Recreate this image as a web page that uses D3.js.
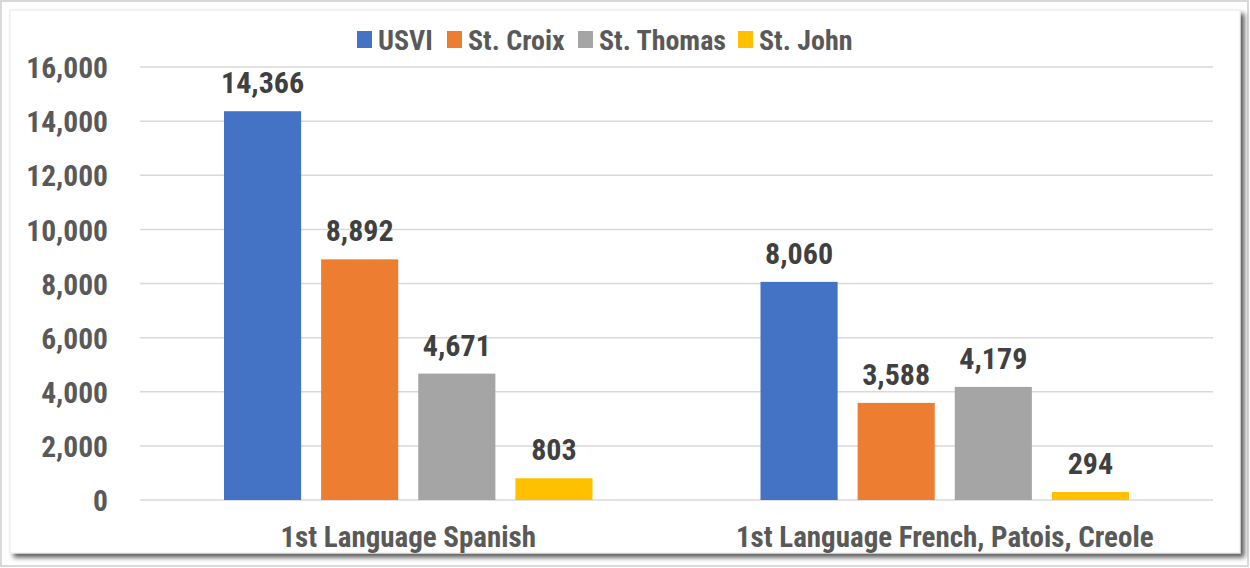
<!DOCTYPE html>
<meta charset="utf-8">
<script src="https://d3js.org/d3.v7.min.js"></script>
<style>
    body { margin: 0; background: #fff; }
    text { font-family: "Liberation Sans Narrow", "Roboto Condensed", "Liberation Sans", Arial, sans-serif; font-weight: bold; }
</style>
<div id="my_dataviz"></div>
<script>
    // data
    var groups = ["1st Language Spanish", "1st Language French, Patois, Creole"]
    var series = ["USVI", "St. Croix", "St. Thomas", "St. John"]
    var usvi = [14366, 8060]
    var stCroix = [8892, 3588]
    var stThomas = [4671, 4179]
    var stJohn = [803, 294]
    var yTicks = [0, 2000, 4000, 6000, 8000, 10000, 12000, 14000, 16000]
    var colors = ["#4472c4", "#ed7d31", "#a5a5a5", "#ffc000"]

    var values = [usvi, stCroix, stThomas, stJohn]
    var data = groups.map(function (g, i) {
        return { group: g, vals: series.map(function (s, j) { return { key: s, value: values[j][i] } }) }
    })

    var W = 1250, H = 568
    var margin = { top: 67, right: 37, bottom: 68, left: 140 },
        width = W - margin.left - margin.right,
        height = H - margin.top - margin.bottom

    var root = d3.select("#my_dataviz").append("svg")
        .attr("width", W).attr("height", H)

    // frame with shadow
    var defs = root.append("defs")
    var f = defs.append("filter").attr("id", "shadow").attr("x", "-5%").attr("y", "-5%").attr("width", "110%").attr("height", "115%")
    f.append("feDropShadow").attr("dx", 4).attr("dy", 4).attr("stdDeviation", 2.5)
        .attr("flood-color", "#000").attr("flood-opacity", 0.65)

    root.append("rect").attr("x", 1).attr("y", 1).attr("width", W - 3).attr("height", H - 3)
        .attr("fill", "#fff").attr("stroke", "#d9d9d9").attr("stroke-width", 2)
    root.append("rect").attr("x", 10).attr("y", 10).attr("width", 1230).attr("height", 543)
        .attr("fill", "#fff").attr("stroke", "#e8e8e8").attr("stroke-width", 1)
        .attr("filter", "url(#shadow)")

    var svg = root.append("g").attr("transform", "translate(" + margin.left + "," + margin.top + ")")

    var y = d3.scaleLinear().domain([0, 16000]).range([height, 0])
    var x0 = d3.scaleBand().domain(groups).range([0, width]).padding(0)
    var x1 = d3.scaleBand().domain(series)
        .range([84, x0.bandwidth() - 84]).paddingInner(0.206).paddingOuter(0)
    var color = d3.scaleOrdinal().domain(series).range(colors)

    // gridlines
    svg.append("g").selectAll("line").data(yTicks).enter().append("line")
        .attr("x1", 0).attr("x2", width)
        .attr("y1", function (d) { return y(d) }).attr("y2", function (d) { return y(d) })
        .attr("stroke", "#d9d9d9").attr("stroke-width", 1.5)

    // y axis
    var yAxis = svg.append("g").attr("transform", "translate(-29,0)")
        .call(d3.axisLeft(y).tickValues(yTicks).tickSize(0).tickFormat(d3.format(",")))
    yAxis.select(".domain").remove()
    yAxis.selectAll("text").attr("fill", "#595959").style("font-size", "29.5px").attr("dy", "0.36em")

    // x axis
    var xAxis = svg.append("g").attr("transform", "translate(0," + height + ")")
        .call(d3.axisBottom(x0).tickSize(0))
    xAxis.select(".domain").remove()
    xAxis.selectAll("text").attr("fill", "#595959").style("font-size", "29px").attr("y", 37).attr("dy", "0.36em")

    // bars
    var g = svg.append("g").selectAll("g").data(data).enter().append("g")
        .attr("transform", function (d) { return "translate(" + x0(d.group) + ",0)" })
    g.selectAll("rect").data(function (d) { return d.vals }).enter().append("rect")
        .attr("x", function (d) { return x1(d.key) })
        .attr("y", function (d) { return y(d.value) })
        .attr("width", x1.bandwidth())
        .attr("height", function (d) { return height - y(d.value) })
        .attr("fill", function (d) { return color(d.key) })
    g.selectAll("text").data(function (d) { return d.vals }).enter().append("text")
        .attr("x", function (d) { return x1(d.key) + x1.bandwidth() / 2 })
        .attr("y", function (d) { return y(d.value) - 18 })
        .attr("text-anchor", "middle")
        .attr("fill", "#404040").style("font-size", "30px")
        .text(function (d) { return d3.format(",")(d.value) })

    // legend
    var legendX = [357, 447, 578, 738]
    var legend = root.append("g")
    series.forEach(function (s, i) {
        legend.append("rect").attr("x", legendX[i]).attr("y", 31).attr("width", 15).attr("height", 17)
            .attr("fill", colors[i])
        legend.append("text").attr("x", legendX[i] + 21).attr("y", 40).attr("dy", "0.36em")
            .attr("fill", "#595959").style("font-size", "28px").text(s)
    })
</script>
